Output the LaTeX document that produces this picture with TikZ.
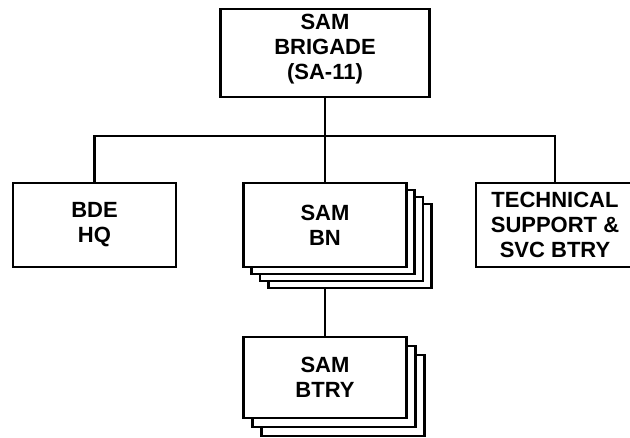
\documentclass[tikz,border=0pt]{standalone}
\usepackage{fontspec}
\setmainfont{Liberation Sans}
\begin{document}
\begin{tikzpicture}[x=1pt,y=-1pt,
  unit/.style={draw=black, line width=2.2pt, fill=white, inner sep=0pt, align=center,
    font=\fontsize{22}{25}\selectfont\bfseries},
  link/.style={draw=black, line width=2.2pt}]
\useasboundingbox (0,0) rectangle (630,438);
% top
\node[unit, minimum width=209pt, minimum height=88pt,
  label={[align=center, font=\fontsize{22}{25}\selectfont\bfseries, yshift=4pt]center:SAM\\BRIGADE\\(SA-11)}] (brig) at (325,53) {};
% BDE HQ
\node[unit, minimum width=163pt, minimum height=84pt] (bde) at (94.5,225) {BDE\\HQ};
% SAM BN stack
\node[unit, minimum width=163pt, minimum height=84pt] (bn4) at (350,246) {};
\node[unit, minimum width=163pt, minimum height=84pt] (bn3) at (341.5,239) {};
\node[unit, minimum width=163pt, minimum height=84pt] (bn2) at (333,232) {};
\node[unit, minimum width=163pt, minimum height=84pt] (bn) at (325,225) {SAM\\BN};
% Technical
\node[unit, minimum width=158pt, minimum height=84pt] (tech) at (555,225) {TECHNICAL\\SUPPORT \&\\SVC BTRY};
% SAM BTRY stack
\node[unit, minimum width=163pt, minimum height=81pt] (bt3) at (343,395.5) {};
\node[unit, minimum width=163pt, minimum height=81pt] (bt2) at (334,386.5) {};
\node[unit, minimum width=163pt, minimum height=81pt] (btry) at (325,377.5) {SAM\\BTRY};
% connectors
\coordinate (bus) at (325,136);
\draw[link] (brig.south) -- (bus);
\draw[link] (bde.north) |- (bus) -| (tech.north);
\draw[link] (bus) -- (bn.north);
\draw[link] (bn4.south -| btry.north) -- (btry.north);
\end{tikzpicture}
\end{document}
